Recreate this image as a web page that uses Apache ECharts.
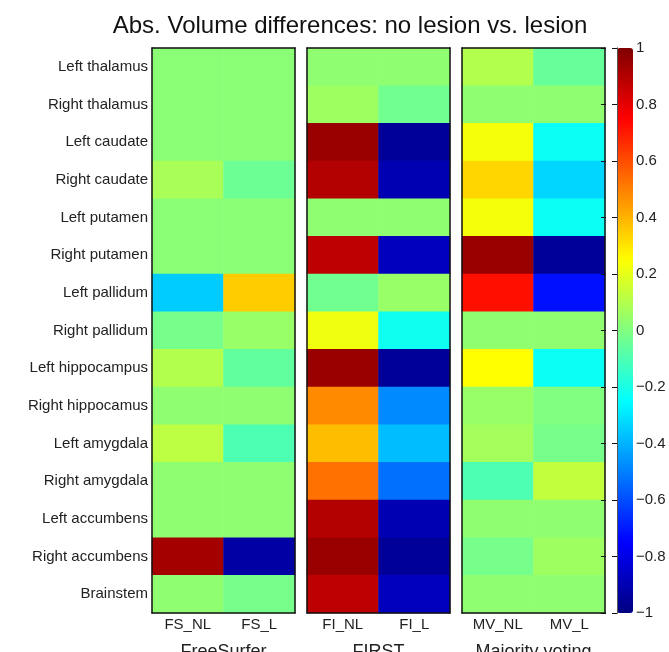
<!DOCTYPE html>
<html>
<head>
<meta charset="utf-8">
<script src="https://cdn.jsdelivr.net/npm/echarts@6/dist/echarts.min.js"></script>
<style>
  html, body { margin: 0; padding: 0; background: #fff; }
  #chart { width: 669px; height: 652px; }
</style>
</head>
<body>
<div id="chart"></div>
<script>
// structures (rows, top to bottom)
var structures = ['Left thalamus', 'Right thalamus', 'Left caudate', 'Right caudate',
    'Left putamen', 'Right putamen', 'Left pallidum', 'Right pallidum',
    'Left hippocampus', 'Right hippocamus', 'Left amygdala', 'Right amygdala',
    'Left accumbens', 'Right accumbens', 'Brainstem'];

// column labels and panel names
var fsCols = ['FS_NL', 'FS_L'];
var fiCols = ['FI_NL', 'FI_L'];
var mvCols = ['MV_NL', 'MV_L'];
var panelNames = ['FreeSurfer', 'FIRST', 'Majority voting'];

// values (-1 .. 1)
var fsNL = [0.02, 0.02, 0.02, 0.08, 0.02, 0.02, -0.35, -0.02, 0.10, 0.03, 0.12, 0.03, 0.03, 0.93, 0.03];
var fsL  = [0.02, 0.02, 0.02, -0.04, 0.02, 0.02, 0.35, 0.05, -0.06, 0.03, -0.10, 0.03, 0.03, -0.93, -0.02];
var fiNL = [0.03, 0.06, 0.95, 0.90, 0.03, 0.88, -0.03, 0.22, 0.95, 0.48, 0.38, 0.53, 0.90, 0.95, 0.88];
var fiL  = [0.03, -0.03, -0.95, -0.90, 0.03, -0.88, 0.05, -0.22, -0.95, -0.48, -0.38, -0.53, -0.90, -0.95, -0.88];
var mvNL = [0.10, 0.03, 0.23, 0.33, 0.23, 0.95, 0.72, 0.03, 0.25, 0.05, 0.07, -0.10, 0.03, -0.02, 0.03];
var mvL  = [-0.05, 0.03, -0.23, -0.33, -0.23, -0.95, -0.72, 0.03, -0.23, 0.00, -0.02, 0.13, 0.03, 0.06, 0.03];

// jet colormap, evenly spaced stops
var jet = ['#000080', '#0000ff', '#0080ff', '#00ffff', '#80ff80', '#ffff00', '#ff8000', '#ff0000', '#800000'];

function cells(a, b) {
    var out = [];
    for (var i = 0; i < structures.length; i++) {
        out.push([0, i, a[i]]);
        out.push([1, i, b[i]]);
    }
    return out;
}

var font = 'Liberation Sans, Arial, Helvetica, sans-serif';
var lineStyle = { color: '#111', width: 1.5 };
var panelLefts = [152, 307, 462];
var panelWidth = 143;
var gridTop = 48, gridHeight = 565;

var grids = [], xAxes = [], yAxes = [], series = [];
var colSets = [fsCols, fiCols, mvCols];
var valSets = [[fsNL, fsL], [fiNL, fiL], [mvNL, mvL]];

for (var p = 0; p < 3; p++) {
    grids.push({ left: panelLefts[p], top: gridTop, width: panelWidth, height: gridHeight, outerBoundsMode: 'none' });
    // bottom x axis with labels and name
    xAxes.push({
        type: 'category', gridIndex: p, data: colSets[p], position: 'bottom', z: 5,
        axisLine: { lineStyle: lineStyle },
        axisTick: { inside: true, alignWithLabel: true, length: 5, lineStyle: lineStyle },
        axisLabel: { color: '#222', fontSize: 15, fontFamily: font, margin: 4 },
        name: panelNames[p], nameLocation: 'middle', nameGap: 30,
        nameTextStyle: { color: '#222', fontSize: 18, fontFamily: font },
        splitLine: { show: false }
    });
    // top x axis, ticks only
    xAxes.push({
        type: 'category', gridIndex: p, data: colSets[p], position: 'top', z: 5,
        axisLine: { lineStyle: lineStyle },
        axisTick: { inside: true, alignWithLabel: true, length: 5, lineStyle: lineStyle },
        axisLabel: { show: false }
    });
    yAxes.push({
        type: 'category', gridIndex: p, data: structures, inverse: true, position: 'left', z: 5,
        axisLine: { lineStyle: lineStyle },
        axisTick: { inside: true, alignWithLabel: true, length: 5, lineStyle: lineStyle },
        axisLabel: { show: p === 0, color: '#222', fontSize: 15, fontFamily: font, margin: 4 }
    });
    yAxes.push({
        type: 'category', gridIndex: p, data: structures, inverse: true, position: 'right', z: 5,
        axisLine: { lineStyle: lineStyle },
        axisTick: { inside: true, alignWithLabel: true, length: 5, lineStyle: lineStyle },
        axisLabel: { show: false }
    });
    series.push({
        type: 'heatmap',
        xAxisIndex: p * 2,
        yAxisIndex: p * 2,
        data: cells(valSets[p][0], valSets[p][1])
    });
}

// colorbar frame + tick labels (bar itself is the visualMap); own layer so it sits on top
grids.push({ left: 617, top: gridTop, width: 16, height: gridHeight, outerBoundsMode: 'none' });
xAxes.push({ type: 'value', gridIndex: 3, show: false, min: 0, max: 1 });
yAxes.push({
    type: 'value', gridIndex: 3, min: -1, max: 1, interval: 0.2, position: 'right', zlevel: 1,
    axisLine: { show: true, lineStyle: { color: '#555', width: 1 } },
    // ticks on both edges of the bar: one dashed stroke across it
    axisTick: { show: true, inside: true, length: 16, lineStyle: { color: '#111', type: [5, 6, 5] } },
    axisLabel: { color: '#222', fontSize: 15, fontFamily: font, margin: 3,
        formatter: function (v) { return (Math.round(v * 10) / 10).toString().replace('-', '\u2212'); } },
    splitLine: { show: false }
});
yAxes.push({
    type: 'value', gridIndex: 3, min: -1, max: 1, interval: 0.2, position: 'left', zlevel: 1,
    axisLine: { show: true, lineStyle: { color: '#555', width: 1 } },
    axisTick: { show: false },
    axisLabel: { show: false },
    splitLine: { show: false }
});

var option = {
    backgroundColor: '#fff',
    animation: false,
    title: {
        text: 'Abs. Volume differences: no lesion vs. lesion',
        left: 345, top: 9, textAlign: 'center',
        textStyle: { color: '#111', fontSize: 24, fontWeight: 'normal', fontFamily: font }
    },
    grid: grids,
    xAxis: xAxes,
    yAxis: yAxes,
    visualMap: {
        type: 'continuous',
        min: -1, max: 1,
        calculable: false,
        seriesIndex: [0, 1, 2],
        orient: 'vertical',
        left: 617, top: gridTop,
        padding: 0,
        itemWidth: 16, itemHeight: gridHeight,
        text: null,
        showLabel: false,
        inRange: { color: jet }
    },
    series: series
};

var myChart = echarts.init(document.getElementById('chart'));
myChart.setOption(option);
</script>
</body>
</html>
